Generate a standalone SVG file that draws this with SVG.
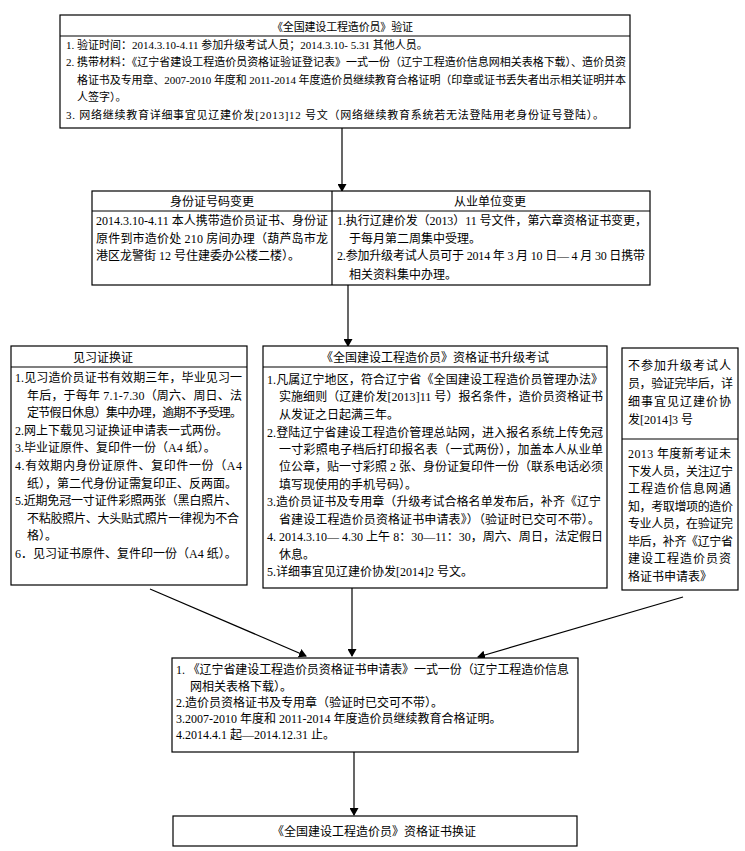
<svg xmlns="http://www.w3.org/2000/svg" width="745" height="851" viewBox="0 0 745 851">
<style>
.bx{fill:#fff;stroke:#000;stroke-width:1.2}
.ln{stroke:#000;stroke-width:1.2;fill:none}
.c{stroke:#000;stroke-width:1.2;fill:none;marker-end:url(#ah)}
text{font-family:"Liberation Serif","Noto Sans CJK SC",serif;fill:#000}
.s{font-size:11px}
.m{font-size:12px}
.mid{text-anchor:middle}
</style>
<defs>
<marker id="ah" markerWidth="8" markerHeight="9" refX="7" refY="4.5" orient="auto" markerUnits="userSpaceOnUse">
<path d="M0,0 L8,4.5 L0,9 Z" fill="#000"/>
</marker>
</defs>
<rect width="745" height="851" fill="#fff"/>
<g id="connectors">
<line class="c" x1="342" y1="128" x2="342" y2="191"/>
<line class="c" x1="348" y1="285" x2="348" y2="346"/>
<line class="c" x1="150" y1="589" x2="306" y2="656"/>
<line class="c" x1="352" y1="588" x2="352" y2="656"/>
<line class="c" x1="683" y1="597" x2="478" y2="657"/>
<line class="c" x1="354" y1="752" x2="354" y2="815"/>
</g>
<g id="verify">
<rect class="bx" x="60" y="15" width="570" height="113"/>
<line class="ln" x1="60" y1="36" x2="630" y2="36"/>
<text class="s" x="272" y="31" textLength="141">《全国建设工程造价员》验证</text>
<text class="s" x="66" y="49">1. 验证时间：2014.3.10-4.11 参加升级考试人员；2014.3.10- 5.31 其他人员。</text>
<text class="s" x="66" y="66" textLength="560">2. 携带材料：《辽宁省建设工程造价员资格证验证登记表》一式一份（辽宁工程造价信息网相关表格下载）、造价员资</text>
<text class="s" x="77" y="84" textLength="549">格证书及专用章、2007-2010 年度和 2011-2014 年度造价员继续教育合格证明（印章或证书丢失者出示相关证明并本</text>
<text class="s" x="77" y="101">人签字）。</text>
<text class="s" x="66" y="119" textLength="538">3. 网络继续教育详细事宜见辽建价发[2013]12 号文（网络继续教育系统若无法登陆用老身份证号登陆）。</text>
</g>
<g id="change">
<rect class="bx" x="92" y="191" width="558" height="94"/>
<line class="ln" x1="92" y1="211" x2="650" y2="211"/>
<line class="ln" x1="332" y1="191" x2="332" y2="285"/>
<text class="m mid" x="212" y="206">身份证号码变更</text>
<text class="m mid" x="490" y="206">从业单位变更</text>
<text class="m" x="96" y="225" textLength="232">2014.3.10-4.11 本人携带造价员证书、身份证</text>
<text class="m" x="96" y="243" textLength="232">原件到市造价处 210 房间办理（葫芦岛市龙</text>
<text class="m" x="96" y="260">港区龙警街 12 号住建委办公楼二楼）。</text>
<text class="m" x="337" y="225" textLength="310">1.执行辽建价发（2013）11 号文件，第六章资格证书变更，</text>
<text class="m" x="349" y="243">于每月第二周集中受理。</text>
<text class="m" x="337" y="260" textLength="308">2.参加升级考试人员可于 2014 年 3 月 10 日— 4 月 30 日携带</text>
<text class="m" x="349" y="279">相关资料集中办理。</text>
</g>
<g id="intern">
<rect class="bx" x="11" y="346" width="236" height="239"/>
<line class="ln" x1="11" y1="367" x2="247" y2="367"/>
<text class="m" x="73" y="362">见习证换证</text>
<text class="m" x="15" y="382" textLength="227">1.见习造价员证书有效期三年，毕业见习一</text>
<text class="m" x="27" y="399.6" textLength="215">年后，于每年 7.1-7.30（周六、周日、法</text>
<text class="m" x="27" y="417.2" textLength="215">定节假日休息）集中办理，逾期不予受理。</text>
<text class="m" x="15" y="434.8">2.网上下载见习证换证申请表一式两份。</text>
<text class="m" x="15" y="452.4">3.毕业证原件、复印件一份（A4 纸）。</text>
<text class="m" x="15" y="470" textLength="227">4.有效期内身份证原件、复印件一份（A4</text>
<text class="m" x="27" y="487.6">纸），第二代身份证需复印正、反两面。</text>
<text class="m" x="15" y="505.2" textLength="222">5.近期免冠一寸证件彩照两张（黑白照片、</text>
<text class="m" x="27" y="522.8" textLength="212">不粘胶照片、大头贴式照片一律视为不合</text>
<text class="m" x="27" y="540.4">格）。</text>
<text class="m" x="15" y="558">6．见习证书原件、复件印一份（A4 纸）。</text>
</g>
<g id="upgrade">
<rect class="bx" x="263" y="346" width="344" height="242"/>
<line class="ln" x1="263" y1="367" x2="607" y2="367"/>
<text class="m mid" x="435" y="362">《全国建设工程造价员》资格证书升级考试</text>
<text class="m" x="267" y="384" textLength="336">1.凡属辽宁地区，符合辽宁省《全国建设工程造价员管理办法》</text>
<text class="m" x="279" y="401" textLength="324">实施细则（辽建价发[2013]11 号）报名条件，造价员资格证书</text>
<text class="m" x="279" y="419">从发证之日起满三年。</text>
<text class="m" x="267" y="437" textLength="336">2.登陆辽宁省建设工程造价管理总站网，进入报名系统上传免冠</text>
<text class="m" x="279" y="454" textLength="324">一寸彩照电子档后打印报名表（一式两份），加盖本人从业单</text>
<text class="m" x="279" y="471" textLength="324">位公章，贴一寸彩照 2 张、身份证复印件一份（联系电话必须</text>
<text class="m" x="279" y="489">填写现使用的手机号码）。</text>
<text class="m" x="267" y="506" textLength="334">3.造价员证书及专用章（升级考试合格名单发布后，补齐《辽宁</text>
<text class="m" x="279" y="524" textLength="321">省建设工程造价员资格证书申请表》）（验证时已交可不带）。</text>
<text class="m" x="267" y="541" textLength="336">4. 2014.3.10— 4.30 上午 8：30—11：30，周六、周日，法定假日</text>
<text class="m" x="279" y="559">休息。</text>
<text class="m" x="267" y="576">5.详细事宜见辽建价协发[2014]2 号文。</text>
</g>
<g id="other">
<rect class="bx" x="622" y="348" width="116" height="242"/>
<line class="ln" x1="622" y1="439" x2="738" y2="439"/>
<text class="m" x="628" y="370" textLength="103">不参加升级考试人</text>
<text class="m" x="628" y="388" textLength="105">员，验证完毕后，详</text>
<text class="m" x="628" y="406" textLength="103">细事宜见辽建价协</text>
<text class="m" x="628" y="424">发[2014]3 号</text>
<text class="m" x="628" y="458" textLength="103">2013 年度新考证未</text>
<text class="m" x="628" y="475.5" textLength="105">下发人员，关注辽宁</text>
<text class="m" x="628" y="493" textLength="103">工程造价信息网通</text>
<text class="m" x="628" y="510.5" textLength="105">知，考取增项的造价</text>
<text class="m" x="628" y="528" textLength="105">专业人员，在验证完</text>
<text class="m" x="628" y="545.5" textLength="105">毕后，补齐《辽宁省</text>
<text class="m" x="628" y="563" textLength="103">建设工程造价员资</text>
<text class="m" x="628" y="580.5">格证书申请表》</text>
</g>
<g id="apply">
<rect class="bx" x="172" y="658" width="406" height="94"/>
<text class="m" x="176" y="674" textLength="393">1. 《辽宁省建设工程造价员资格证书申请表》一式一份（辽宁工程造价信息</text>
<text class="m" x="190" y="691">网相关表格下载）。</text>
<text class="m" x="176" y="707">2.造价员资格证书及专用章（验证时已交可不带）。</text>
<text class="m" x="176" y="723">3.2007-2010 年度和 2011-2014 年度造价员继续教育合格证明。</text>
<text class="m" x="176" y="739">4.2014.4.1 起—2014.12.31 止。</text>
</g>
<g id="renew">
<rect class="bx" x="173" y="816" width="404" height="30"/>
<text class="m mid" x="374" y="836">《全国建设工程造价员》资格证书换证</text>
</g>
</svg>
